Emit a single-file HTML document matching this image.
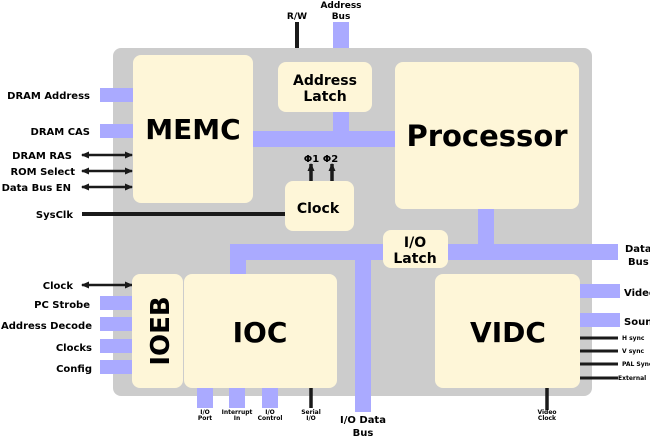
<!DOCTYPE html>
<html><head><meta charset="utf-8"><style>
html,body{margin:0;padding:0;background:#fff;}
svg{display:block;font-family:"DejaVu Sans","Liberation Sans",sans-serif;font-weight:bold;}
</style></head><body>
<svg width="650" height="437" viewBox="0 0 650 437" xmlns="http://www.w3.org/2000/svg">
<defs>
<marker id="ah" markerWidth="8" markerHeight="7" refX="7" refY="3.5" orient="auto" markerUnits="userSpaceOnUse"><path d="M0,0 L8,3.5 L0,7 z" fill="#1a1a1a"/></marker>
<marker id="at" markerWidth="8" markerHeight="7" refX="1" refY="3.5" orient="auto" markerUnits="userSpaceOnUse"><path d="M8,0 L0,3.5 L8,7 z" fill="#1a1a1a"/></marker>
</defs>
<rect x="333" y="22" width="16" height="45" fill="#aaf"/>
<line x1="297" y1="22" x2="297" y2="64" stroke="#1a1a1a" stroke-width="4"/>
<rect x="113" y="48" width="479" height="348" rx="8" fill="#ccc"/>
<rect x="100" y="88" width="35" height="14" fill="#aaf"/>
<rect x="100" y="124" width="35" height="14" fill="#aaf"/>
<rect x="100" y="296" width="35" height="14" fill="#aaf"/>
<rect x="100" y="317" width="35" height="14" fill="#aaf"/>
<rect x="100" y="339" width="35" height="14" fill="#aaf"/>
<rect x="100" y="360" width="35" height="14" fill="#aaf"/>
<g stroke="#1a1a1a">
<line x1="82" y1="155" x2="132" y2="155" marker-start="url(#at)" marker-end="url(#ah)" stroke-width="2.5"/>
<line x1="82" y1="171" x2="132" y2="171" marker-start="url(#at)" marker-end="url(#ah)" stroke-width="2.5"/>
<line x1="82" y1="187" x2="132" y2="187" marker-start="url(#at)" marker-end="url(#ah)" stroke-width="2.5"/>
<line x1="82" y1="285" x2="132" y2="285" marker-start="url(#at)" marker-end="url(#ah)" stroke-width="2.5"/>
<line x1="82" y1="214" x2="287" y2="214" stroke-width="4"/>
<line x1="311" y1="183" x2="311" y2="164" marker-end="url(#ah)" stroke-width="3.5"/>
<line x1="332" y1="183" x2="332" y2="164" marker-end="url(#ah)" stroke-width="3.5"/>
<line x1="311" y1="388" x2="311" y2="408" stroke-width="3.5"/>
<line x1="547" y1="388" x2="547" y2="410" stroke-width="3.5"/>
<line x1="578" y1="338" x2="618" y2="338" stroke-width="3"/>
<line x1="578" y1="351" x2="618" y2="351" stroke-width="3"/>
<line x1="578" y1="364" x2="618" y2="364" stroke-width="3"/>
<line x1="578" y1="378" x2="618" y2="378" stroke-width="3"/>
</g>
<rect x="578" y="284" width="42" height="14" fill="#aaf"/>
<rect x="578" y="313" width="42" height="14" fill="#aaf"/>
<rect x="197" y="386" width="16" height="22" fill="#aaf"/>
<rect x="229" y="386" width="16" height="22" fill="#aaf"/>
<rect x="262" y="386" width="16" height="22" fill="#aaf"/>
<rect x="250" y="131" width="148" height="16" fill="#aaf"/>
<rect x="333" y="108" width="16" height="25" fill="#aaf"/>
<rect x="478" y="205" width="16" height="45" fill="#aaf"/>
<rect x="230" y="244" width="156" height="16" fill="#aaf"/>
<rect x="445" y="244" width="173" height="16" fill="#aaf"/>
<rect x="230" y="244" width="16" height="32" fill="#aaf"/>
<rect x="355" y="244" width="16" height="168" fill="#aaf"/>
<g fill="#fef6d8">
<rect x="133" y="55" width="120" height="148" rx="8"/>
<rect x="278" y="62" width="94" height="50" rx="8"/>
<rect x="395" y="62" width="184" height="147" rx="8"/>
<rect x="285" y="181" width="69" height="50" rx="8"/>
<rect x="383" y="230" width="65" height="38" rx="8"/>
<rect x="132" y="274" width="51" height="114" rx="8"/>
<rect x="184" y="274" width="153" height="114" rx="8"/>
<rect x="435" y="274" width="145" height="114" rx="8"/>
</g>
<g fill="#000" text-anchor="middle">
<text x="193" y="139" font-size="28">MEMC</text>
<text x="325" y="85" font-size="14">Address</text>
<text x="325" y="101" font-size="14">Latch</text>
<text x="487" y="146" font-size="29">Processor</text>
<text x="318" y="213" font-size="14">Clock</text>
<text x="415" y="247" font-size="14">I/O</text>
<text x="415" y="263" font-size="14">Latch</text>
<text x="260" y="342" font-size="28">IOC</text>
<text x="508" y="342" font-size="28">VIDC</text>
<text transform="translate(169,331) rotate(-90)" font-size="26">IOEB</text>
<text x="297" y="19" font-size="9">R/W</text>
<text x="341" y="8" font-size="9">Address</text>
<text x="341" y="19" font-size="9">Bus</text>
<text x="321" y="162" font-size="10">Φ1 Φ2</text>
<text x="363" y="423" font-size="10">I/O Data</text>
<text x="363" y="436" font-size="10">Bus</text>
<g font-size="6">
<text x="205" y="414">I/O</text><text x="205" y="420">Port</text>
<text x="237" y="414">Interrupt</text><text x="237" y="420">In</text>
<text x="270" y="414">I/O</text><text x="270" y="420">Control</text>
<text x="311" y="414">Serial</text><text x="311" y="420">I/O</text>
<text x="547" y="414">Video</text><text x="547" y="420">Clock</text>
</g>
</g>
<g fill="#000" font-size="10" text-anchor="end">
<text x="90" y="99">DRAM Address</text>
<text x="90" y="135">DRAM CAS</text>
<text x="72" y="159">DRAM RAS</text>
<text x="75" y="175">ROM Select</text>
<text x="71" y="191">Data Bus EN</text>
<text x="73" y="218">SysClk</text>
<text x="73" y="289">Clock</text>
<text x="90" y="308">PC Strobe</text>
<text x="92" y="329">Address Decode</text>
<text x="92" y="351">Clocks</text>
<text x="92" y="372">Config</text>
</g>
<g fill="#000" font-size="10">
<text x="625" y="252">Data</text>
<text x="628" y="265">Bus</text>
<text x="624" y="296">Video</text>
<text x="624" y="325">Sound</text>
</g>
<g fill="#000" font-size="6">
<text x="622" y="340">H sync</text>
<text x="622" y="353">V sync</text>
<text x="622" y="366">PAL Sync</text>
<text x="618" y="380">External</text>
</g>
</svg>
</body></html>
